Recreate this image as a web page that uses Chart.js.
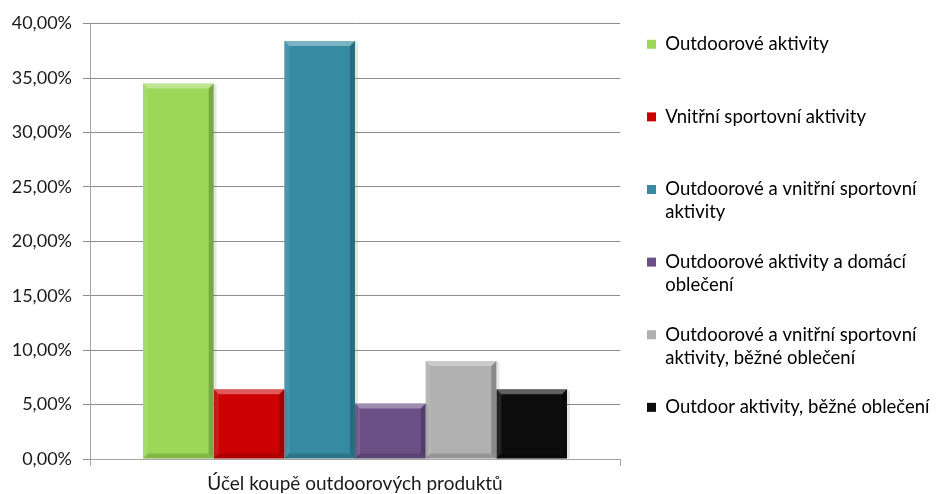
<!DOCTYPE html>
<html>
<head>
<meta charset="utf-8">
<script src="https://cdn.jsdelivr.net/npm/chart.js@4"></script>
<style>
  html, body { margin: 0; padding: 0; background: #fff; }
  #wrap { width: 936px; height: 494px; }
</style>
</head>
<body>
<div id="wrap"><canvas id="purposeChart"></canvas></div>
<script>
const categories = ['Účel koupě outdoorových produktů'];
const seriesNames = [
  'Outdoorové aktivity',
  'Vnitřní sportovní aktivity',
  'Outdoorové a vnitřní sportovní aktivity',
  'Outdoorové aktivity a domácí oblečení',
  'Outdoorové a vnitřní sportovní aktivity, běžné oblečení',
  'Outdoor aktivity, běžné oblečení'
];
const legendLines = [
  ['Outdoorové aktivity'],
  ['Vnitřní sportovní aktivity'],
  ['Outdoorové a vnitřní sportovní', 'aktivity'],
  ['Outdoorové aktivity a domácí', 'oblečení'],
  ['Outdoorové a vnitřní sportovní', 'aktivity, běžné oblečení'],
  ['Outdoor aktivity, běžné oblečení']
];
const seriesValues = [34.5, 6.4, 38.4, 5.1, 9.0, 6.4];
const seriesColors = ['#9bd858', '#cc0000', '#368aa2', '#6b5088', '#b0b0b0', '#0c0c0c'];

const fontName = 'Lato, "Open Sans", sans-serif';

// bevel look of the bars, drawn on top of the library's own bar elements
const bevelPlugin = {
  id: 'bevel',
  afterDatasetsDraw(chart) {
    const ctx = chart.ctx;
    chart.data.datasets.forEach((ds, i) => {
      chart.getDatasetMeta(i).data.forEach(bar => {
        const l = bar.x - bar.width / 2, r = bar.x + bar.width / 2;
        const t = bar.y, b = bar.base, e = 5;
        const poly = (pts, fill) => {
          ctx.beginPath();
          ctx.moveTo(pts[0][0], pts[0][1]);
          pts.slice(1).forEach(p => ctx.lineTo(p[0], p[1]));
          ctx.closePath();
          ctx.fillStyle = fill;
          ctx.fill();
        };
        ctx.save();
        poly([[r, t], [r + 3, t + 2], [r + 3, b], [r, b]], 'rgba(0,0,0,0.10)');
        poly([[l, t], [r, t], [r - e, t + e], [l + e, t + e]], 'rgba(255,255,255,0.35)');
        poly([[r, t], [r, b], [r - e, b - e], [r - e, t + e]], 'rgba(0,0,0,0.22)');
        poly([[l, b], [r, b], [r - e, b - e], [l + e, b - e]], 'rgba(0,0,0,0.15)');
        poly([[l, t], [l + e, t + e], [l + e, b - e], [l, b]], 'rgba(255,255,255,0.10)');
        ctx.restore();
      });
    });
  }
};

const ctx = document.getElementById('purposeChart').getContext('2d');
const purposeChart = new Chart(ctx, {
  type: 'bar',
  data: {
    labels: categories,
    datasets: seriesNames.map((name, i) => ({
      label: name,
      data: [seriesValues[i]],
      backgroundColor: seriesColors[i],
      borderWidth: 0,
      categoryPercentage: 0.8,
      barPercentage: 1.0
    }))
  },
  options: {
    responsive: true,
    maintainAspectRatio: false,
    animation: false,
    layout: { padding: { left: 12, top: 8, right: 0, bottom: 0 } },
    plugins: {
      tooltip: { enabled: false },
      legend: {
        position: 'right',
        align: 'start',
        maxWidth: 316,
        labels: {
          boxWidth: 9,
          boxHeight: 9,
          padding: 27,
          color: '#1a1a1a',
          font: { family: fontName, size: 18.5, lineHeight: 1.233 },
          generateLabels(chart) {
            return chart.data.datasets.map((ds, i) => ({
              text: legendLines[i].length > 1 ? legendLines[i] : [legendLines[i][0], ''],
              fillStyle: seriesColors[i],
              strokeStyle: seriesColors[i],
              lineWidth: 0,
              hidden: false,
              datasetIndex: i
            }));
          }
        }
      }
    },
    scales: {
      x: {
        grid: {
          display: true,
          drawOnChartArea: false,
          tickLength: 7,
          color: '#a6a6a6'
        },
        border: { color: '#a6a6a6' },
        ticks: {
          color: '#1a1a1a',
          padding: 6,
          font: { family: fontName, size: 19 }
        },
        afterFit(scale) { scale.height = 35; }
      },
      y: {
        min: 0,
        max: 40,
        ticks: {
          stepSize: 5,
          padding: 11,
          color: '#1a1a1a',
          font: { family: fontName, size: 18, lineHeight: 1.4 },
          callback: v => v.toFixed(2).replace('.', ',') + '%'
        },
        grid: { color: '#8c8c8c', tickLength: 7 },
        border: { color: '#a6a6a6' },
        afterFit(scale) { scale.width = 78; }
      }
    }
  },
  plugins: [bevelPlugin]
});
</script>
</body>
</html>
